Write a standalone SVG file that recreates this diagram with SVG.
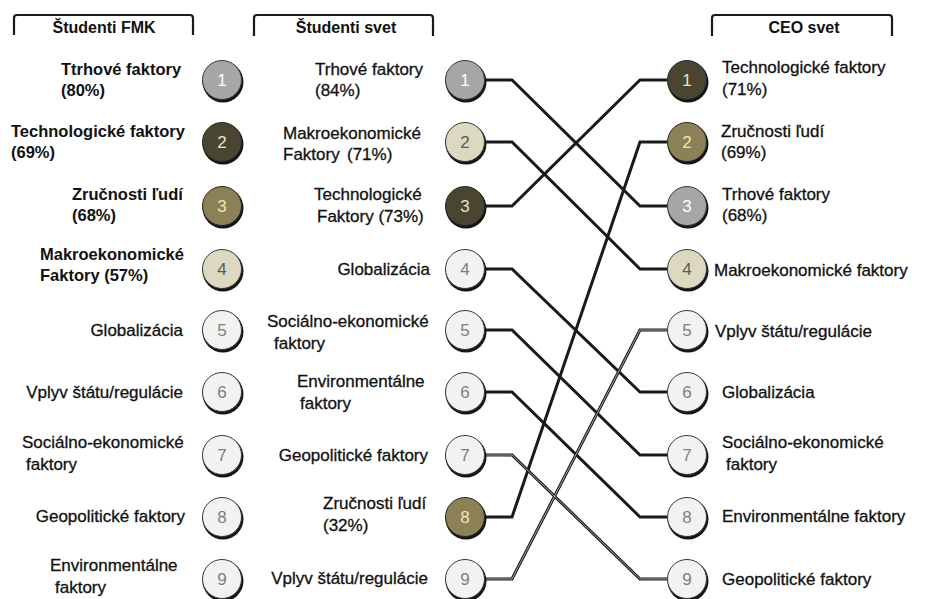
<svg xmlns="http://www.w3.org/2000/svg" width="930" height="599" viewBox="0 0 930 599">
<style>
text{font-family:"Liberation Sans",Arial,sans-serif;fill:#111}
.t{font-size:17px;stroke:#111;stroke-width:0.3}
.b{font-size:16.5px;font-weight:bold}
.e{text-anchor:end}
.h{font-size:16px;font-weight:bold;text-anchor:middle}
.num{font-size:17px;text-anchor:middle}
.br{fill:none;stroke:#1a1a1a;stroke-width:2.2}
.sh{fill:#151515}
.c{fill:none;stroke:#1a1a1a;stroke-width:3;stroke-linejoin:miter}
.cd{fill:none;stroke:#c8c8c8;stroke-width:0.8}
.g{fill:#a6a6a6;stroke:#3a3a3a;stroke-width:1}
.d{fill:#4a4530;stroke:#2a2a2a;stroke-width:1}
.o{fill:#8c8156;stroke:#2a2a2a;stroke-width:1}
.k{fill:#ddd8c0;stroke:#3a3a3a;stroke-width:1}
.l{fill:#f2f2f2;stroke:#3a3a3a;stroke-width:1}
.wt{fill:#ffffff}
.dt{fill:#e6e2d0}
.ot{fill:#eee6b8}
.kt{fill:#5a5a5a}
.lt{fill:#7f7f7f}
</style>

<g id="headers">
<path class="br" d="M14 35 V18 Q14 15 17 15 H190 Q193 15 193 18 V35"/>
<text class="h" x="104" y="33">Študenti FMK</text>
<path class="br" d="M254 36 V18 Q254 15 257 15 H430 Q433 15 433 18 V36"/>
<text class="h" x="346" y="33">Študenti svet</text>
<path class="br" d="M712 36 V18 Q712 15 715 15 H889 Q892 15 892 18 V36"/>
<text class="h" x="804" y="33">CEO svet</text>
</g>

<g id="connectors">
<path class="c" d="M485 80 H512 L640 206 H667"/>
<path class="c" d="M485 142 H512 L640 269 H667"/>
<path class="c" d="M485 206 H512 L640 80 H667"/>
<path class="c" d="M485 269 H512 L640 392 H667"/>
<path class="c" d="M485 330 H512 L640 455 H667"/>
<path class="c" d="M485 392 H512 L640 517 H667"/>
<path class="c" d="M485 455 H512 L640 579 H667"/>
<path class="c" d="M485 517 H512 L640 142 H667"/>
<path class="c" d="M485 579 H512 L640 330 H667"/>
<path class="cd" d="M485 579 H512 L640 330 H667"/>
<path class="cd" d="M485 455 H512 L640 579 H667"/>
</g>

<!-- Column 1: Študenti FMK -->
<g id="fmk1"><circle class="sh" cx="223" cy="82" r="20.5"/><circle class="g" cx="222" cy="80" r="19.5"/><text class="num wt" x="222" y="86">1</text>
<text class="b" x="61" y="75">Ttrhové faktory</text><text class="b" x="61" y="96">(80%)</text></g>
<g id="fmk2"><circle class="sh" cx="223" cy="144" r="20.5"/><circle class="d" cx="222" cy="142" r="19.5"/><text class="num dt" x="222" y="148">2</text>
<text class="b" x="11" y="137">Technologické faktory</text><text class="b" x="11" y="158">(69%)</text></g>
<g id="fmk3"><circle class="sh" cx="223" cy="208" r="20.5"/><circle class="o" cx="222" cy="206" r="19.5"/><text class="num ot" x="222" y="212">3</text>
<text class="b" x="72" y="200">Zručnosti ľudí</text><text class="b" x="72" y="221">(68%)</text></g>
<g id="fmk4"><circle class="sh" cx="223" cy="271" r="20.5"/><circle class="k" cx="222" cy="269" r="19.5"/><text class="num kt" x="222" y="275">4</text>
<text class="b" x="40" y="260">Makroekonomické</text><text class="b" x="40" y="281">Faktory  (57%)</text></g>
<g id="fmk5"><circle class="sh" cx="223" cy="332" r="20.5"/><circle class="l" cx="222" cy="330" r="19.5"/><text class="num lt" x="222" y="336">5</text>
<text class="t e" x="183" y="336">Globalizácia</text></g>
<g id="fmk6"><circle class="sh" cx="223" cy="394" r="20.5"/><circle class="l" cx="222" cy="392" r="19.5"/><text class="num lt" x="222" y="398">6</text>
<text class="t e" x="183" y="398">Vplyv štátu/regulácie</text></g>
<g id="fmk7"><circle class="sh" cx="223" cy="457" r="20.5"/><circle class="l" cx="222" cy="455" r="19.5"/><text class="num lt" x="222" y="461">7</text>
<text class="t" x="22" y="448">Sociálno-ekonomické</text><text class="t" x="26" y="470">faktory</text></g>
<g id="fmk8"><circle class="sh" cx="223" cy="519" r="20.5"/><circle class="l" cx="222" cy="517" r="19.5"/><text class="num lt" x="222" y="523">8</text>
<text class="t e" x="185" y="522">Geopolitické faktory</text></g>
<g id="fmk9"><circle class="sh" cx="223" cy="581" r="20.5"/><circle class="l" cx="222" cy="579" r="19.5"/><text class="num lt" x="222" y="585">9</text>
<text class="t" x="50" y="571">Environmentálne</text><text class="t" x="55" y="593">faktory</text></g>

<!-- Column 2: Študenti svet -->
<g id="sv1"><circle class="sh" cx="466" cy="82" r="20.5"/><circle class="g" cx="465" cy="80" r="19.5"/><text class="num wt" x="465" y="86">1</text>
<text class="t" x="315" y="75">Trhové faktory</text><text class="t" x="315" y="96">(84%)</text></g>
<g id="sv2"><circle class="sh" cx="466" cy="144" r="20.5"/><circle class="k" cx="465" cy="142" r="19.5"/><text class="num kt" x="465" y="148">2</text>
<text class="t" x="283" y="139">Makroekonomické</text><text class="t" x="283" y="160">Faktory</text><text class="t" x="347" y="160">(71%)</text></g>
<g id="sv3"><circle class="sh" cx="466" cy="208" r="20.5"/><circle class="d" cx="465" cy="206" r="19.5"/><text class="num dt" x="465" y="212">3</text>
<text class="t" x="314" y="200">Technologické</text><text class="t" x="317" y="222">Faktory  (73%)</text></g>
<g id="sv4"><circle class="sh" cx="466" cy="271" r="20.5"/><circle class="l" cx="465" cy="269" r="19.5"/><text class="num lt" x="465" y="275">4</text>
<text class="t e" x="430" y="275">Globalizácia</text></g>
<g id="sv5"><circle class="sh" cx="466" cy="332" r="20.5"/><circle class="l" cx="465" cy="330" r="19.5"/><text class="num lt" x="465" y="336">5</text>
<text class="t" x="267" y="327">Sociálno-ekonomické</text><text class="t" x="274" y="349">faktory</text></g>
<g id="sv6"><circle class="sh" cx="466" cy="394" r="20.5"/><circle class="l" cx="465" cy="392" r="19.5"/><text class="num lt" x="465" y="398">6</text>
<text class="t" x="297" y="387">Environmentálne</text><text class="t" x="300" y="409">faktory</text></g>
<g id="sv7"><circle class="sh" cx="466" cy="457" r="20.5"/><circle class="l" cx="465" cy="455" r="19.5"/><text class="num lt" x="465" y="461">7</text>
<text class="t e" x="428" y="461">Geopolitické faktory</text></g>
<g id="sv8"><circle class="sh" cx="466" cy="519" r="20.5"/><circle class="o" cx="465" cy="517" r="19.5"/><text class="num ot" x="465" y="523">8</text>
<text class="t" x="323" y="509">Zručnosti ľudí</text><text class="t" x="323" y="531">(32%)</text></g>
<g id="sv9"><circle class="sh" cx="466" cy="581" r="20.5"/><circle class="l" cx="465" cy="579" r="19.5"/><text class="num lt" x="465" y="585">9</text>
<text class="t e" x="428" y="584">Vplyv štátu/regulácie</text></g>

<!-- Column 3: CEO svet -->
<g id="ceo1"><circle class="sh" cx="688" cy="82" r="20.5"/><circle class="d" cx="687" cy="80" r="19.5"/><text class="num dt" x="687" y="86">1</text>
<text class="t" x="722" y="73">Technologické faktory</text><text class="t" x="722" y="95">(71%)</text></g>
<g id="ceo2"><circle class="sh" cx="688" cy="144" r="20.5"/><circle class="o" cx="687" cy="142" r="19.5"/><text class="num ot" x="687" y="148">2</text>
<text class="t" x="721" y="137">Zručnosti ľudí</text><text class="t" x="721" y="158">(69%)</text></g>
<g id="ceo3"><circle class="sh" cx="688" cy="208" r="20.5"/><circle class="g" cx="687" cy="206" r="19.5"/><text class="num wt" x="687" y="212">3</text>
<text class="t" x="722" y="200">Trhové faktory</text><text class="t" x="722" y="221">(68%)</text></g>
<g id="ceo4"><circle class="sh" cx="688" cy="271" r="20.5"/><circle class="k" cx="687" cy="269" r="19.5"/><text class="num kt" x="687" y="275">4</text>
<text class="t" x="714" y="276">Makroekonomické faktory</text></g>
<g id="ceo5"><circle class="sh" cx="688" cy="332" r="20.5"/><circle class="l" cx="687" cy="330" r="19.5"/><text class="num lt" x="687" y="336">5</text>
<text class="t" x="715" y="337">Vplyv štátu/regulácie</text></g>
<g id="ceo6"><circle class="sh" cx="688" cy="394" r="20.5"/><circle class="l" cx="687" cy="392" r="19.5"/><text class="num lt" x="687" y="398">6</text>
<text class="t" x="722" y="398">Globalizácia</text></g>
<g id="ceo7"><circle class="sh" cx="688" cy="457" r="20.5"/><circle class="l" cx="687" cy="455" r="19.5"/><text class="num lt" x="687" y="461">7</text>
<text class="t" x="722" y="448">Sociálno-ekonomické</text><text class="t" x="726" y="470">faktory</text></g>
<g id="ceo8"><circle class="sh" cx="688" cy="519" r="20.5"/><circle class="l" cx="687" cy="517" r="19.5"/><text class="num lt" x="687" y="523">8</text>
<text class="t" x="722" y="522">Environmentálne faktory</text></g>
<g id="ceo9"><circle class="sh" cx="688" cy="581" r="20.5"/><circle class="l" cx="687" cy="579" r="19.5"/><text class="num lt" x="687" y="585">9</text>
<text class="t" x="722" y="585">Geopolitické faktory</text></g>
</svg>
